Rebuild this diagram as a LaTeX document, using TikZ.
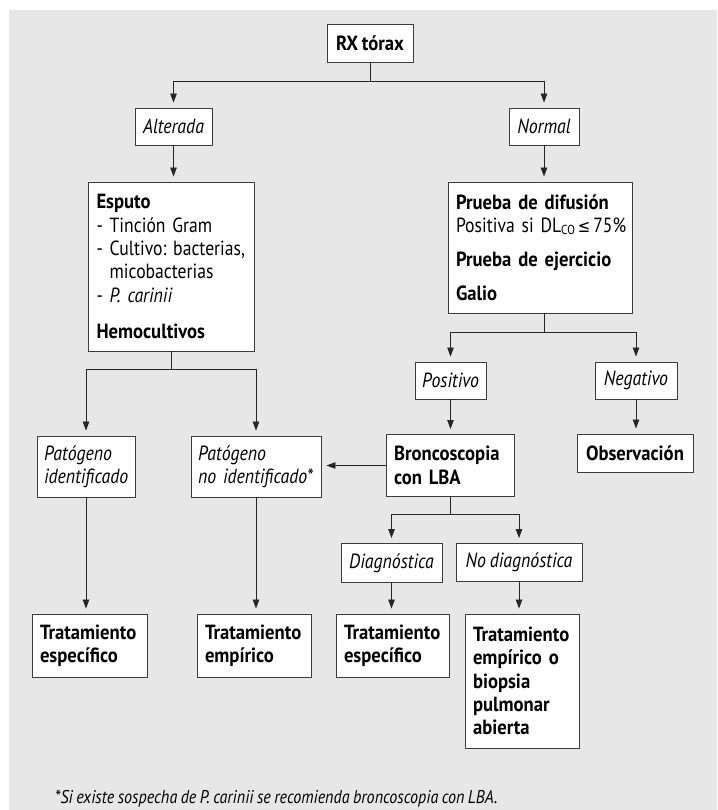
\documentclass[tikz,border=0pt]{standalone}
\usepackage{fontspec}
\setmainfont{PT Sans}[FakeStretch=0.86, WordSpace=0.8,
  ItalicFeatures={FakeStretch=0.87},
  BoldFeatures={FakeStretch=0.91}]
\newfontfamily\simbolos{DejaVu Sans}[FakeStretch=0.85,Scale=0.85]
\usetikzlibrary{arrows.meta}

\definecolor{fondo}{RGB}{231,231,231}
\definecolor{borde}{RGB}{60,60,60}

\tikzset{
  caja/.style={draw=borde, line width=0.9pt, fill=white, inner xsep=8pt, inner ysep=0pt, align=left},
  cajab/.style={caja, font=\fontsize{20.5}{23.4}\selectfont\bfseries},
  etiq/.style={caja, inner xsep=3pt, align=center, font=\fontsize{20.5}{23.4}\selectfont\itshape},
  flecha/.style={-{Triangle[length=9pt,width=6.5pt]}, shorten >=5pt, line width=0.8pt, draw=black!85}
}

\begin{document}
\frenchspacing
\begin{tikzpicture}[x=1pt, y=-1pt, every node/.style={font=\fontsize{20.5}{23.4}\selectfont}]
    % Marco y fondo gris
    \useasboundingbox (0,0) rectangle (717,810);
    \fill[fondo] (9,10) rectangle (717,810);
    % Primer nivel: radiografía
    \node[cajab, inner xsep=3pt, minimum width=86, minimum height=38] (rx) at (370,43) {RX tórax};
    % Resultado de la radiografía
    \node[etiq, minimum width=77, minimum height=37] (alterada) at (173.5,126.5) {Alterada};
    \node[etiq, minimum width=70, minimum height=37] (normal) at (544,126.5) {Normal};
    % Rama izquierda: esputo y hemocultivos
    \node[caja, text width=150pt, minimum height=169] (esputo) at (171.5,266.5) {%
      \textbf{Esputo}\\
      -~Tinción~Gram\\
      -~Cultivo:~bacterias,\\
      \hphantom{-~}micobacterias\\
      -~\textit{P.~carinii}\\[12.5pt]
      \textbf{Hemocultivos}};
    % Rama derecha: pruebas funcionales
    \node[caja, text width=168pt, minimum height=131] (prueba) at (540,247.5) {%
      \textbf{Prueba~de~difusión}\\
      \mbox{Positiva si DL\raisebox{-2pt}{\fontsize{13}{13}\selectfont CO}\kern3pt{\simbolos ≤}\kern3pt75\%}\\[10.5pt]
      \textbf{Prueba~de~ejercicio}\\[10.5pt]
      \textbf{Galio}};
    \node[etiq, minimum width=71, minimum height=37] (positivo) at (450.5,380.5) {Positivo};
    \node[etiq, minimum width=82, minimum height=37] (negativo) at (636,380.5) {Negativo};
    % Resultados del esputo
    \node[etiq, inner xsep=7pt, align=left, text width=84pt, minimum height=61] (patid) at (86,466.5) {Patógeno\\identificado};
    \node[etiq, inner xsep=7pt, align=left, text width=116pt, minimum height=61] (patnoid) at (256,466.5) {Patógeno\\no~identificado*};
    % Broncoscopia y observación
    \node[cajab, text width=112pt, minimum height=62] (bronco) at (450,465.5) {Broncoscopia\\con~LBA};
    \node[cajab, inner xsep=3pt, minimum width=116, minimum height=38] (observ) at (635,453) {Observación};
    % Resultado de la broncoscopia
    \node[etiq, minimum width=101, minimum height=39] (diag) at (391.5,563) {Diagnóstica};
    \node[etiq, minimum width=126, minimum height=38] (nodiag) at (519,562.5) {No diagnóstica};
    % Tratamientos
    \node[cajab, text width=99pt, minimum height=63] (tesp) at (89.5,645.5) {Tratamiento\\específico};
    \node[cajab, text width=98pt, minimum height=63] (temp) at (254,645.5) {Tratamiento\\empírico};
    \node[cajab, text width=97pt, minimum height=63] (tesp2) at (392.5,645.5) {Tratamiento\\específico};
    \node[cajab, text width=98pt, minimum height=134] (tbiop) at (522,681) {Tratamiento\\empírico~o\\biopsia\\pulmonar\\abierta};
    % Nota al pie
    \node[anchor=west, inner xsep=0pt, font=\fontsize{18.5}{21}\selectfont\itshape] (nota) at (55,799) {*Si existe sospecha de P. carinii se recomienda broncoscopia con LBA.};
    % Conectores
    \draw[flecha] (rx.south) -- ++(0,19) -| (alterada.north);
    \draw[flecha] (rx.south) -- ++(0,19) -| (normal.north);
    \draw[flecha] (alterada.south) -- (alterada.south |- esputo.north);
    \draw[flecha] (normal.south) -- (normal.south |- prueba.north);
    \draw[flecha] (esputo.south) -- ++(0,18) -| (patid.north);
    \draw[flecha] (esputo.south) -- ++(0,18) -| (patnoid.north);
    \draw[flecha] (prueba.south -| normal.south) -- ++(0,19) -| (positivo.north);
    \draw[flecha] (prueba.south -| normal.south) -- ++(0,19) -| (negativo.north);
    \draw[flecha] (positivo.south) -- (positivo.south |- bronco.north);
    \draw[flecha] (negativo.south) -- (negativo.south |- observ.north);
    \draw[flecha] (bronco.west) -- (bronco.west -| patnoid.east);
    \draw[flecha] (bronco.south) -- ++(0,17) -| (diag.north);
    \draw[flecha] (bronco.south) -- ++(0,17) -| (nodiag.north);
    \draw[flecha] (patid.south) -- (patid.south |- tesp.north);
    \draw[flecha] (patnoid.south) -- (patnoid.south |- temp.north);
    \draw[flecha] (diag.south) -- (diag.south |- tesp2.north);
    \draw[flecha] (nodiag.south) -- (nodiag.south |- tbiop.north);
\end{tikzpicture}
\end{document}
